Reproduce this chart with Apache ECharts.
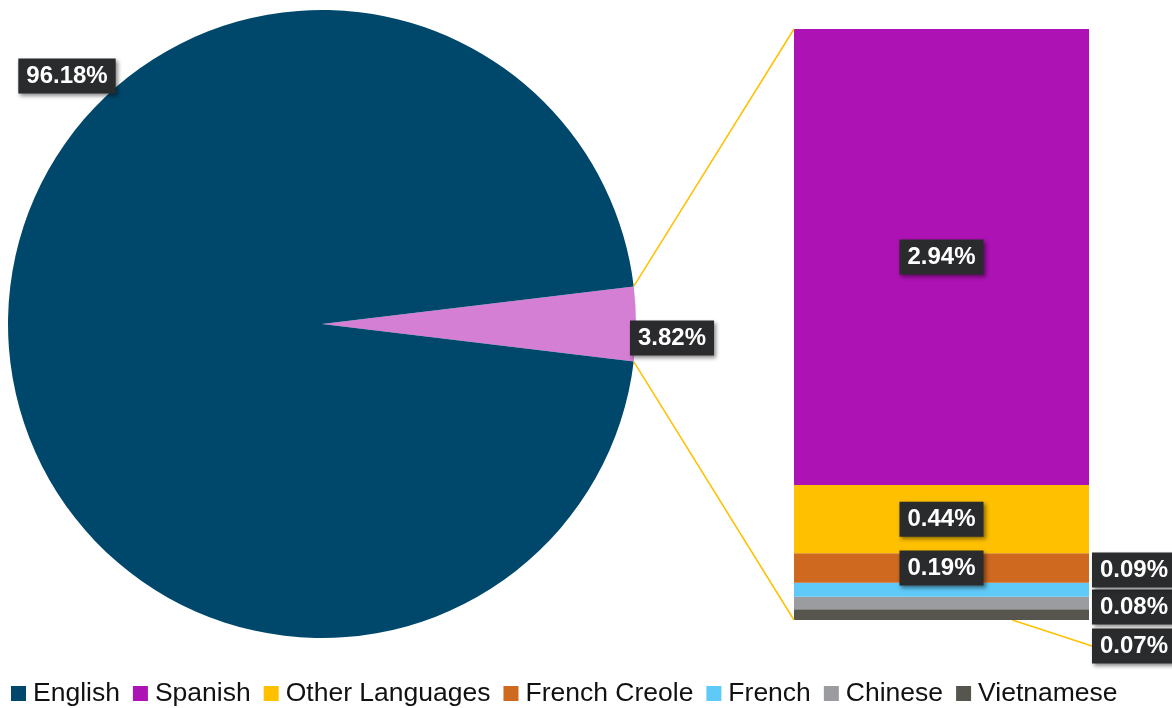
<!DOCTYPE html>
<html>
<head>
<meta charset="utf-8">
<script src="https://cdn.jsdelivr.net/npm/echarts@6/dist/echarts.min.js"></script>
<style>html,body{margin:0;padding:0;background:#fff}#c{width:1172px;height:708px}</style>
</head>
<body>
<div id="c"></div>
<script>
const pieNames = ['Other', 'English'];
const pieValues = [3.82, 96.18];
const barNames = ['Vietnamese', 'Chinese', 'French', 'French Creole', 'Other Languages', 'Spanish'];
const barValues = [0.07, 0.08, 0.09, 0.19, 0.44, 2.94];
const legendNames = ['English', 'Spanish', 'Other Languages', 'French Creole', 'French', 'Chinese', 'Vietnamese'];

const colors = {
  'English': '#00486B', 'Other': '#D47FD4', 'Spanish': '#AC12B4', 'Other Languages': '#FFC000',
  'French Creole': '#CF691F', 'French': '#5FCAF8', 'Chinese': '#9A9C9F', 'Vietnamese': '#56564E'
};
const FONT = '"Liberation Sans", Arial, sans-serif';
const labelBox = {
  color: '#fff', fontWeight: 'bold', fontSize: 24, fontFamily: FONT, overflow: 'none',
  backgroundColor: '#2a2b2d', padding: [6, 8, 5, 8],
  shadowColor: 'rgba(0,0,0,0.45)', shadowBlur: 4, shadowOffsetX: 2, shadowOffsetY: 2
};
const pieCenter = [322, 324], pieRadius = 314;
const otherAngle = pieValues[0] / (pieValues[0] + pieValues[1]) * 180;
const barTotal = barValues.reduce((a, b) => a + b, 0);
const grid = { left: 794, right: 83, top: 29, bottom: 88 };

// label placement for the thin bars (to the right of the bar)
const sideLabelX = 1092;
const sideLabelY = { 'French': 570, 'Chinese': 607, 'Vietnamese': 646 };

const series = [{
  type: 'pie', name: 'Language', center: pieCenter, radius: pieRadius,
  startAngle: otherAngle, clockwise: true, animation: false, silent: true,
  data: pieNames.map((n, i) => ({ name: n, value: pieValues[i], itemStyle: { color: colors[n] } })),
  label: Object.assign({ show: true, position: 'inside', formatter: p => p.value.toFixed(2) + '%' }, labelBox),
  labelLine: { show: false },
  labelLayout: p => p.dataIndex === 1
    ? { x: 67, y: 76, align: 'center', verticalAlign: 'middle' }
    : { x: 672, y: 338, align: 'center', verticalAlign: 'middle' }
}];
barNames.forEach((n, i) => {
  const side = sideLabelY[n] !== undefined;
  const s = {
    type: 'bar', name: n, stack: 'o', barWidth: '100%', animation: false, silent: true,
    data: [barValues[i]], itemStyle: { color: colors[n] },
    label: Object.assign({ show: true, position: side ? 'right' : 'inside', formatter: p => p.value.toFixed(2) + '%' }, labelBox)
  };
  if (side) s.labelLayout = { x: sideLabelX, y: sideLabelY[n], align: 'left', verticalAlign: 'middle' };
  series.push(s);
});

const chart = echarts.init(document.getElementById('c'), null, { renderer: 'canvas' });
chart.setOption({
  backgroundColor: '#fff',
  animation: false,
  grid: grid,
  xAxis: { type: 'category', data: ['Other'], show: false },
  yAxis: { type: 'value', min: 0, max: barTotal, show: false },
  legend: {
    data: legendNames, left: 6, bottom: -4, icon: 'rect', itemWidth: 15, itemHeight: 15, itemGap: 13,
    textStyle: { fontSize: 26.5, fontFamily: FONT, color: '#111', padding: [0, 0, 0, 2] },
    selectedMode: false
  },
  series: series
});

// connector lines from the "Other" slice edges to the bar's corners
const a = otherAngle * Math.PI / 180;
const p1 = [pieCenter[0] + pieRadius * Math.cos(a), pieCenter[1] - pieRadius * Math.sin(a)];
const p2 = [pieCenter[0] + pieRadius * Math.cos(a), pieCenter[1] + pieRadius * Math.sin(a)];
const topY = chart.convertToPixel({ yAxisIndex: 0 }, barTotal);
const botY = chart.convertToPixel({ yAxisIndex: 0 }, 0);
const barRight = 1172 - grid.right;
chart.setOption({
  graphic: [
    { type: 'line', shape: { x1: p1[0], y1: p1[1], x2: grid.left, y2: topY }, style: { stroke: '#FFC000', lineWidth: 1.5 }, z: 10 },
    { type: 'line', shape: { x1: p2[0], y1: p2[1], x2: grid.left, y2: botY }, style: { stroke: '#FFC000', lineWidth: 1.5 }, z: 10 },
    // leader line for the Vietnamese label
    { type: 'line', shape: { x1: grid.left + (barRight - grid.left) * 0.74, y1: botY, x2: sideLabelX, y2: sideLabelY['Vietnamese'] }, style: { stroke: '#FFC000', lineWidth: 1.5 }, z: 1 }
  ]
});
</script>
</body>
</html>
